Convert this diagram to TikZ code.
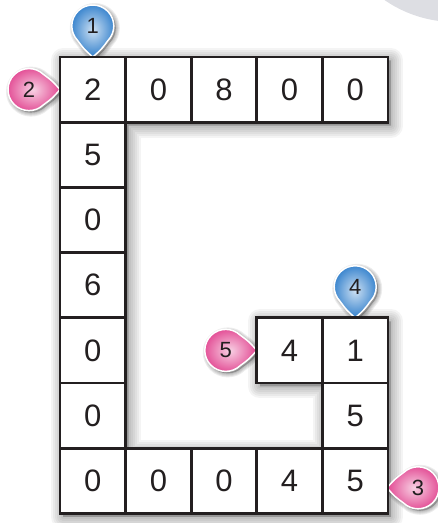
\documentclass[tikz,border=0pt]{standalone}
\usepackage{fontspec}
\setmainfont{Liberation Sans}
\usetikzlibrary{positioning,backgrounds}
\definecolor{pinblue}{RGB}{50,128,204}
\definecolor{pinpink}{RGB}{226,72,146}
\definecolor{blobgray}{RGB}{221,222,227}
\definecolor{gridline}{RGB}{35,31,32}

\begin{document}
\begin{tikzpicture}[
  x=1pt, y=1pt,
  node distance=0pt,
  cell/.style={draw=gridline, line width=2.8pt, fill=white, minimum width=65.6pt, minimum height=65.2pt, inner sep=0pt, outer sep=0pt, font=\fontsize{31}{36}\selectfont, text=gridline},
  marker/.style={circle, minimum size=42pt, inner sep=0pt, outer sep=0pt, font=\fontsize{22}{26}\selectfont, text=gridline},
  gshadow/.style={black, opacity=0.045, line join=round, transform canvas={shift={(3pt,-3.5pt)}}},
  mshadow/.style={black, opacity=0.07, line join=round, transform canvas={shift={(2pt,-2pt)}}}
]
  \useasboundingbox (0,0) rectangle (438,523);
  \begin{scope}
    \clip (0,0) rectangle (438,523);
    \fill[blobgray] (455,625) circle[radius=124pt];
  \end{scope}

  % top row
  \node[cell] (c00) at (92.8,433.4) {2};
  \node[cell, right=of c00] (c10) {0};
  \node[cell, right=of c10] (c20) {8};
  \node[cell, right=of c20] (c30) {0};
  \node[cell, right=of c30] (c40) {0};
  % left column
  \node[cell, below=of c00] (c01) {5};
  \node[cell, below=of c01] (c02) {0};
  \node[cell, below=of c02] (c03) {6};
  \node[cell, below=of c03] (c04) {0};
  \node[cell, below=of c04] (c05) {0};
  \node[cell, below=of c05] (c06) {0};
  % bottom row
  \node[cell, right=of c06] (c16) {0};
  \node[cell, right=of c16] (c26) {0};
  \node[cell, right=of c26] (c36) {4};
  \node[cell, right=of c36] (c46) {5};
  % inner hook
  \node[cell, above=of c46] (c45) {5};
  \node[cell, above=of c45] (c44) {1};
  \node[cell, left=of c44] (c34) {4};

  % markers
  \node[marker, above=10pt of c00.north] (m1) {1};
  \node[marker, left=10pt of c00.west] (m2) {2};
  \node[marker, right=9pt of c46.east, yshift=-7pt] (m3) {3};
  \node[marker, above=10pt of c44.north] (m4) {4};
  \node[marker, left=10pt of c34.west] (m5) {5};

  \begin{scope}[on background layer]
    \foreach \w in {4,8,12,16,20,24} {
      \fill[gshadow] (c00.north west) -- (c40.north east) -- (c40.south east) -- (c10.south west)
        -- (c16.north west) -- (c36.north east) -- (c34.south east) -- (c34.south west)
        -- (c34.north west) -- (c44.north east) -- (c46.south east) -- (c06.south west) -- cycle;
      \draw[gshadow, line width=\w pt] (c00.north west) -- (c40.north east) -- (c40.south east) -- (c10.south west)
        -- (c16.north west) -- (c36.north east) -- (c34.south east) -- (c34.south west)
        -- (c34.north west) -- (c44.north east) -- (c46.south east) -- (c06.south west) -- cycle;
    }
    \foreach \m/\a/\col in {m1/270/pinblue, m2/0/pinpink, m3/180/pinpink, m4/270/pinblue, m5/0/pinpink} {
      \foreach \w in {2,4,6,8}
        \filldraw[mshadow, line width=\w pt] ([shift={(\a+46:21pt)}]\m.center)
          .. controls ([shift={(\a+20:25pt)}]\m.center) .. ([shift={(\a:31pt)}]\m.center)
          .. controls ([shift={(\a-20:25pt)}]\m.center) .. ([shift={(\a-46:21pt)}]\m.center)
          arc[start angle=\a-46, end angle=\a-314, radius=21pt] -- cycle;
      \shadedraw[inner color=\col!25!white, outer color=\col, draw=white, line width=1.5pt, line join=round]
        ([shift={(\a+46:21pt)}]\m.center)
          .. controls ([shift={(\a+20:25pt)}]\m.center) .. ([shift={(\a:31pt)}]\m.center)
          .. controls ([shift={(\a-20:25pt)}]\m.center) .. ([shift={(\a-46:21pt)}]\m.center)
          arc[start angle=\a-46, end angle=\a-314, radius=21pt] -- cycle;
    }
  \end{scope}
\end{tikzpicture}
\end{document}
